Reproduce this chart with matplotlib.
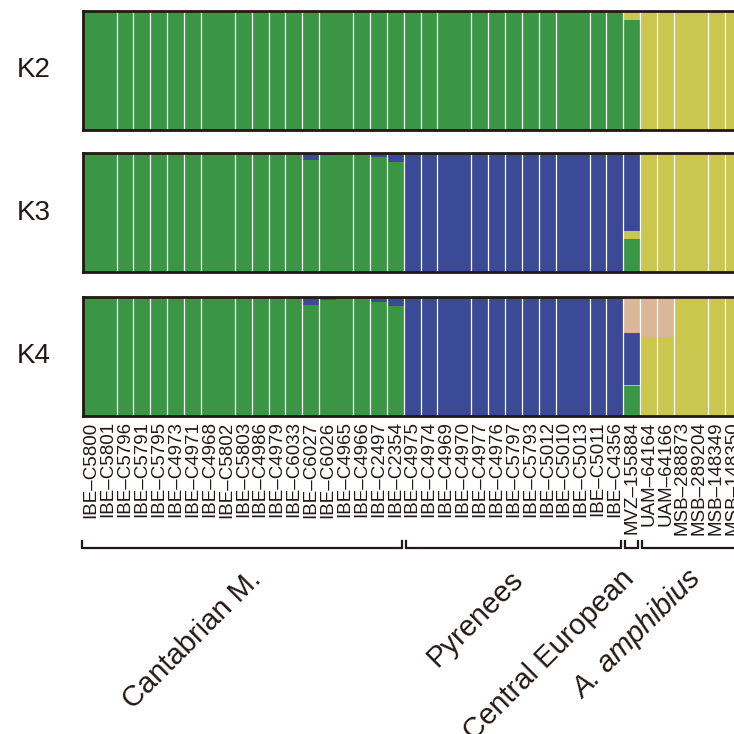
import numpy as np
import matplotlib
matplotlib.use("Agg")
import matplotlib.pyplot as plt
import matplotlib.transforms as mtransforms

plt.rcParams['font.family'] = ['Liberation Sans', 'DejaVu Sans']

# ------------------------------------------
# Data: sample names and ancestry fractions
# ------------------------------------------
samples = [
    "IBE–C5800", "IBE–C5801", "IBE–C5796", "IBE–C5791", "IBE–C5795",
    "IBE–C4973", "IBE–C4971", "IBE–C4968", "IBE–C5802", "IBE–C5803",
    "IBE–C4986", "IBE–C4979", "IBE–C6033", "IBE–C6027", "IBE–C6026",
    "IBE–C4965", "IBE–C4966", "IBE–C2497", "IBE–C2354",
    "IBE–C4975", "IBE–C4974", "IBE–C4969", "IBE–C4970", "IBE–C4977",
    "IBE–C4976", "IBE–C5797", "IBE–C5793", "IBE–C5012", "IBE–C5010",
    "IBE–C5013", "IBE–C5011", "IBE–C4356",
    "MVZ–155884",
    "UAM–64164", "UAM–64166", "MSB–288873", "MSB–289204", "MSB–148349",
    "MSB–148350",
]

groups = ["Cantabrian M.", "Pyrenees", "Central European", "A. amphibius"]
group_sizes = [19, 13, 1, 6]

# K = 2
k2_green = [1, 1, 1, 1, 1, 1, 1, 1, 1, 1, 1, 1, 1, 1, 1, 1, 1, 1, 1,
            1, 1, 1, 1, 1, 1, 1, 1, 1, 1, 1, 1, 1,
            0.92,
            0, 0, 0, 0, 0, 0]
k2_yellow = [0, 0, 0, 0, 0, 0, 0, 0, 0, 0, 0, 0, 0, 0, 0, 0, 0, 0, 0,
             0, 0, 0, 0, 0, 0, 0, 0, 0, 0, 0, 0, 0,
             0.08,
             1, 1, 1, 1, 1, 1]

# K = 3
k3_green = [1, 1, 1, 1, 1, 1, 1, 1, 1, 1, 1, 1, 1, 0.943, 0.983, 1, 1, 0.966, 0.931,
            0, 0, 0, 0, 0, 0, 0, 0, 0, 0, 0, 0, 0,
            0.28,
            0, 0, 0, 0, 0, 0]
k3_yellow = [0, 0, 0, 0, 0, 0, 0, 0, 0, 0, 0, 0, 0, 0, 0, 0, 0, 0, 0,
             0, 0, 0, 0, 0, 0, 0, 0, 0, 0, 0, 0, 0,
             0.07,
             1, 1, 1, 1, 1, 1]
k3_blue = [0, 0, 0, 0, 0, 0, 0, 0, 0, 0, 0, 0, 0, 0.057, 0.017, 0, 0, 0.034, 0.069,
           1, 1, 1, 1, 1, 1, 1, 1, 1, 1, 1, 1, 1,
           0.65,
           0, 0, 0, 0, 0, 0]

# K = 4
k4_green = [1, 1, 1, 1, 1, 1, 1, 1, 1, 1, 1, 1, 0.99, 0.934, 0.969, 1, 1, 0.96, 0.926,
            0, 0, 0, 0, 0, 0, 0, 0, 0, 0, 0, 0, 0,
            0.25,
            0, 0, 0, 0, 0, 0]
k4_yellow = [0, 0, 0, 0, 0, 0, 0, 0, 0, 0, 0, 0, 0, 0, 0, 0, 0, 0, 0,
             0, 0, 0, 0, 0, 0, 0, 0, 0, 0, 0, 0, 0,
             0.01,
             0.66, 0.66, 1, 1, 1, 1]
k4_blue = [0, 0, 0, 0, 0, 0, 0, 0, 0, 0, 0, 0, 0.01, 0.066, 0.031, 0, 0, 0.04, 0.074,
           1, 1, 1, 1, 1, 1, 1, 1, 1, 1, 1, 1, 1,
           0.44,
           0, 0, 0, 0, 0, 0]
k4_peach = [0, 0, 0, 0, 0, 0, 0, 0, 0, 0, 0, 0, 0, 0, 0, 0, 0, 0, 0,
            0, 0, 0, 0, 0, 0, 0, 0, 0, 0, 0, 0, 0,
            0.30,
            0.34, 0.34, 0, 0, 0, 0]

# ------------------------------------------
# Style
# ------------------------------------------
GREEN = "#3a9645"
YELLOW = "#cbc64d"
BLUE = "#3a4a96"
PEACH = "#dbb799"
DARK = "#231815"

W = H = 734
fig = plt.figure(figsize=(W / 100, H / 100), dpi=100)

bar_px = 16.89
left_px = 82.8
n = len(samples)
ax_w = n * bar_px / W
panel_tops = [10.5, 153.3, 296.8]
panel_h = 119.0

panels = [
    ("K2", [(k2_green, GREEN), (k2_yellow, YELLOW)]),
    ("K3", [(k3_green, GREEN), (k3_yellow, YELLOW), (k3_blue, BLUE)]),
    ("K4", [(k4_green, GREEN), (k4_yellow, YELLOW), (k4_blue, BLUE), (k4_peach, PEACH)]),
]

# separators are missing at a few boundaries in the original
no_sep = {1, 8, 15, 22, 29, 36}

x = np.arange(n)
axes = []
for i, (name, layers) in enumerate(panels):
    top = panel_tops[i]
    ax = fig.add_axes([left_px / W, 1 - (top + panel_h) / H, ax_w, panel_h / H])
    bottom = np.zeros(n)
    for vals, col in layers:
        vals = np.array(vals, dtype=float)
        ax.bar(x, vals, width=1.0, bottom=bottom, align='edge', color=col,
               edgecolor='none', linewidth=0)
        bottom += vals
    for k in range(1, n):
        if k not in no_sep:
            ax.axvline(k, color='white', lw=0.9, zorder=3)
    ax.set_xlim(0, n)
    ax.set_ylim(0, 1)
    ax.set_yticks([])
    for sp in ax.spines.values():
        sp.set_color(DARK)
        sp.set_linewidth(2.0)
        sp.set_zorder(5)
    # panel label, placed in figure x / axes y coordinates
    lab_tr = mtransforms.blended_transform_factory(fig.transFigure, ax.transAxes)
    ax.text(34 / W, 0.5, name, transform=lab_tr, ha='center', va='center',
            fontsize=20, color=DARK)
    if i < 2:
        ax.set_xticks([])
    else:
        ax.set_xticks(x + 0.5)
        ax.set_xticklabels(samples, rotation=90, fontsize=13.5, color=DARK,
                           va='top', ha='center')
        ax.tick_params(axis='x', length=0, pad=4)
    axes.append(ax)

# ------------------------------------------
# Group brackets and labels
# ------------------------------------------
ax = axes[-1]
blend = mtransforms.blended_transform_factory(ax.transData, fig.transFigure)
y_line = 1 - 548 / H
y_tick = 1 - 541 / H
inset = 0.13
start = 0
for gi, size in enumerate(group_sizes):
    a = start + inset if gi > 0 else start - 0.05
    b = start + size - inset
    if gi == len(group_sizes) - 1:
        b = start + size + 2
    ax.plot([a, a, b, b], [y_tick, y_line, y_line, y_tick], color=DARK,
            lw=1.6, transform=blend, clip_on=False, solid_joinstyle='miter')
    start += size

label_x = [9.7, 25.2, 31.8, 35.8]
label_y = 1 - 565 / H
for gi, g in enumerate(groups):
    style = 'italic' if g.startswith("A. ") else 'normal'
    ax.text(label_x[gi], label_y, g, transform=blend, rotation=45,
            rotation_mode='anchor', ha='right', va='top', fontsize=21,
            color=DARK, style=style)

fig.savefig("out.png", dpi=100)
